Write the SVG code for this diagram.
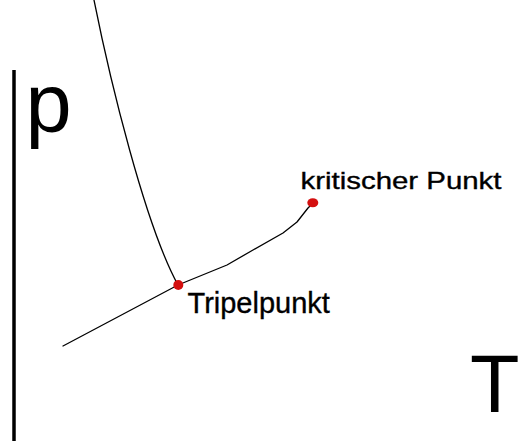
<svg xmlns="http://www.w3.org/2000/svg" width="531" height="441" viewBox="0 0 531 441">
<style>
.curve{fill:none;stroke:#000;stroke-width:1.3;stroke-linejoin:round;stroke-linecap:round}
.lbl{font-family:"Liberation Sans",Arial,sans-serif;fill:#000}
.small{stroke:#000;stroke-width:0.35}
.pt{fill:#d40f0f}
</style>
<rect width="531" height="441" fill="#fff"/>
<g id="axis">
<line x1="14" y1="70" x2="14" y2="441" stroke="#000" stroke-width="3.5"/>
<text class="lbl" x="25.5" y="132" font-size="83">p</text>
<text class="lbl" x="470" y="412" font-size="81">T</text>
</g>
<g id="connectors">
<path class="curve" d="M94,0 C110,80 145,225 178,285"/>
<path class="curve" d="M63,346 L178,285"/>
<path class="curve" d="M178,285 L227,265 L253,250 L283,233 L297,222 L308,208 L313,203"/>
</g>
<g id="tripelpunkt">
<circle class="pt" cx="178.3" cy="285" r="5"/>
<text class="lbl small" x="187.5" y="313" font-size="29">Tripelpunkt</text>
</g>
<g id="kritischer-punkt">
<ellipse class="pt" cx="312.8" cy="202.7" rx="5.5" ry="4.5"/>
<text class="lbl small" x="300.5" y="189" font-size="24" textLength="201" lengthAdjust="spacingAndGlyphs">kritischer Punkt</text>
</g>
</svg>
